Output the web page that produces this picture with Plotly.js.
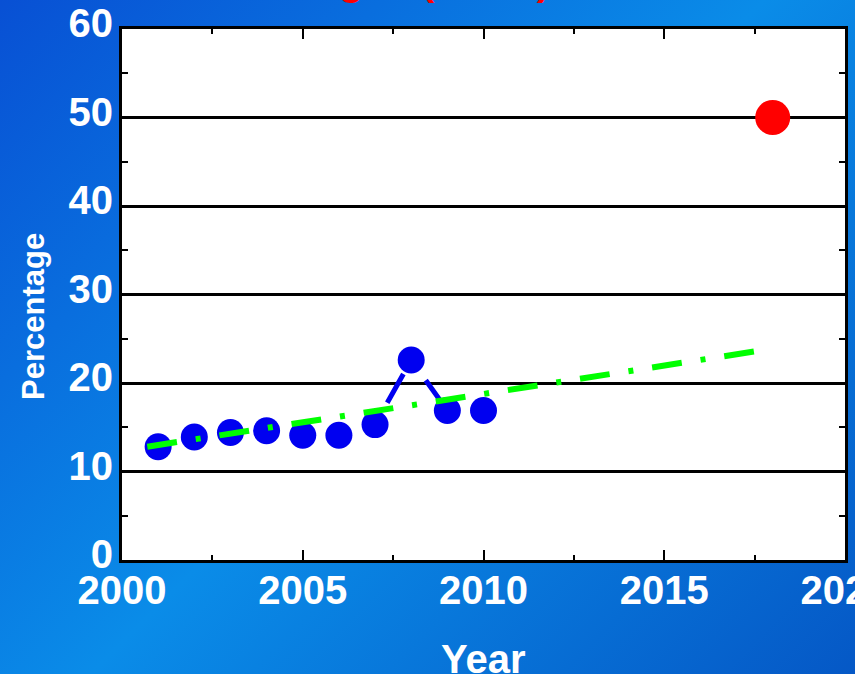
<!DOCTYPE html>
<html>
<head>
<meta charset="utf-8">
<script src="https://cdn.plot.ly/plotly-3.0.1.min.js"></script>
<style>
  html, body { margin: 0; padding: 0; }
  body {
    width: 855px; height: 674px; overflow: hidden;
    background: linear-gradient(135deg, #0850d4 0%, #0a8ce8 50%, #0558c6 100%);
  }
  #chart { width: 855px; height: 674px; }
</style>
</head>
<body>
<div id="chart"></div>
<script>
// ---- data ----
const surveyYears = [2001, 2002, 2003, 2004, 2005, 2006, 2007, 2008, 2009, 2010];
const surveyValues = [12.8, 13.9, 14.4, 14.6, 14.1, 14.1, 15.3, 22.6, 16.9, 16.9];
const trendYears = [2000.7, 2017.7];
const trendValues = [12.8, 23.7];
const targetYears = [2018];
const targetValues = [50];
const xTickValues = [2000, 2005, 2010, 2015, 2020];
const yTickValues = [0, 10, 20, 30, 40, 50, 60];
const titleText = "Aged (15-49)";
const xTitleText = "Year";
const yTitleText = "Percentage";

const FONT = "'Liberation Sans', Arial, sans-serif";
const BLUE = '#0000f0';

const traces = [];
// connecting line: dash pattern restarts on every segment (as in the reference)
for (let i = 0; i < surveyYears.length - 1; i++) {
  traces.push({
    x: [surveyYears[i], surveyYears[i + 1]],
    y: [surveyValues[i], surveyValues[i + 1]],
    type: 'scatter', mode: 'lines',
    line: { color: BLUE, width: 5, dash: '0px,25px,33px,300px' },
    hoverinfo: 'skip', showlegend: false
  });
}
traces.push({
  x: surveyYears, y: surveyValues, type: 'scatter', mode: 'markers',
  marker: { color: BLUE, size: 27 },
  hoverinfo: 'skip', showlegend: false
});
traces.push({
  x: trendYears, y: trendValues, type: 'scatter', mode: 'lines',
  line: { color: '#00ff00', width: 6, dash: '30px,19px,5px,19px' },
  hoverinfo: 'skip', showlegend: false
});
traces.push({
  x: targetYears, y: targetValues, type: 'scatter', mode: 'markers',
  marker: { color: '#ff0000', size: 35 },
  hoverinfo: 'skip', showlegend: false
});

const tickFont = { family: FONT, size: 40, color: '#ffffff', weight: 'bold' };

const layout = {
  width: 855, height: 674,
  margin: { l: 122, r: 10, t: 29, b: 114, pad: 0 },
  paper_bgcolor: 'rgba(0,0,0,0)',
  plot_bgcolor: '#ffffff',
  showlegend: false,
  xaxis: {
    range: [2000, 2020], tickvals: xTickValues, ticktext: xTickValues.map(String),
    showgrid: false, zeroline: false,
    showline: true, linecolor: '#000000', linewidth: 3, mirror: 'allticks',
    ticks: 'inside', ticklen: 10, tickwidth: 2, tickcolor: '#000000',
    minor: { dtick: 2.5, ticks: 'inside', ticklen: 5, tickwidth: 2, tickcolor: '#000000', showgrid: false },
    tickfont: tickFont, ticklabelstandoff: -7, ticklabeloverflow: 'allow',
    fixedrange: true
  },
  yaxis: {
    range: [0, 60], tickvals: yTickValues, ticktext: yTickValues.map(String),
    showgrid: true, gridcolor: '#000000', gridwidth: 3, zeroline: false,
    showline: true, linecolor: '#000000', linewidth: 3, mirror: 'allticks',
    ticks: 'inside', ticklen: 10, tickwidth: 2, tickcolor: '#000000',
    minor: { dtick: 5, ticks: 'inside', ticklen: 6, tickwidth: 2, tickcolor: '#000000', showgrid: false },
    tickfont: tickFont, ticklabelstandoff: -2, ticklabelshift: -6, ticklabeloverflow: 'allow',
    fixedrange: true
  },
  annotations: [
    {
      text: titleText, xref: 'paper', yref: 'paper',
      x: (430 - 122) / 723, y: 1, xanchor: 'center', yanchor: 'bottom', yshift: 24,
      showarrow: false, font: { family: FONT, size: 40, color: '#ff0000', weight: 'bold' }
    },
    {
      text: xTitleText, xref: 'paper', yref: 'paper',
      x: 0.5, y: (560 - 659) / 531, xanchor: 'center', yanchor: 'middle',
      showarrow: false, font: { family: FONT, size: 40, color: '#ffffff', weight: 'bold' }
    },
    {
      text: yTitleText, xref: 'paper', yref: 'paper', textangle: -90,
      x: (33 - 122) / 723, y: (560 - 317) / 531, xanchor: 'center', yanchor: 'middle',
      showarrow: false, font: { family: FONT, size: 31, color: '#ffffff', weight: 'bold' }
    }
  ]
};

Plotly.newPlot('chart', traces, layout, { staticPlot: true, displayModeBar: false });
</script>
</body>
</html>
